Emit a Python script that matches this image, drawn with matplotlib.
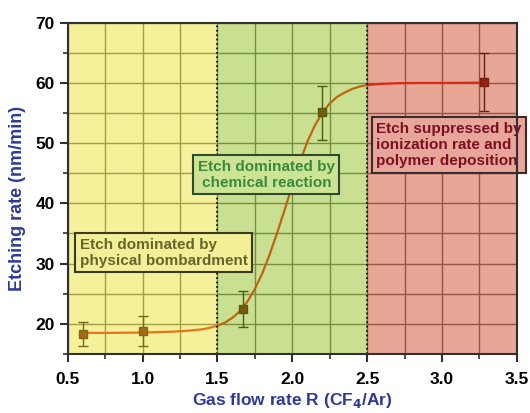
from matplotlib import pyplot as plt

plt.rcParams['font.family'] = ['Liberation Sans', 'DejaVu Sans']

# measured points with error bars
rate_x = [0.6, 1.0, 1.67, 2.2, 3.28]
rate_y = [18.3, 18.8, 22.5, 55.2, 60.1]
err_lo = [2.0, 2.45, 3.0, 4.6, 4.7]
err_hi = [2.0, 2.5, 2.9, 4.3, 4.8]

# fitted curve
fit_x = [0.6, 0.8, 1.0, 1.2, 1.3, 1.4, 1.45, 1.5, 1.55, 1.6, 1.65, 1.7, 1.75,
         1.8, 1.85, 1.9, 1.95, 2.0, 2.05, 2.1, 2.15, 2.2, 2.25, 2.3, 2.35,
         2.4, 2.45, 2.5, 2.6, 2.7, 2.8, 3.0, 3.28]
fit_y = [18.5, 18.5, 18.55, 18.7, 18.85, 19.1, 19.35, 19.7, 20.2, 21.0, 22.1,
         23.7, 25.8, 28.4, 31.6, 35.2, 39.0, 43.0, 46.8, 50.2, 52.9, 55.0,
         56.6, 57.7, 58.4, 59.0, 59.4, 59.65, 59.85, 59.95, 60.0, 60.0, 60.05]

regions = [(0.5, 1.5, '#e9de20'), (1.5, 2.5, '#88bc10'), (2.5, 3.5, '#cc3a1a')]

plt.figure(figsize=(5.3, 4.13), dpi=100)
ax = plt.axes([0.128, 0.143, 0.847, 0.802])

ax.set_xlim(0.5, 3.5)
ax.set_ylim(15, 70)
ax.set_xticks([0.5, 1.0, 1.5, 2.0, 2.5, 3.0, 3.5])
ax.set_xticks([0.75, 1.25, 1.75, 2.25, 2.75, 3.25], minor=True)
ax.set_yticks([20, 30, 40, 50, 60, 70])
ax.set_yticks([15, 25, 35, 45, 55, 65], minor=True)
ax.grid(True, which='both', color='#6a6a6a', lw=1.0, zorder=1)
ax.set_axisbelow(True)

ax.plot(fit_x, fit_y, color='#e8200c', lw=1.6, zorder=2)
ax.errorbar(rate_x, rate_y, yerr=[err_lo, err_hi], fmt='s', color='#6a0c0c',
            ecolor='#101010', elinewidth=1.0, capsize=3.5, capthick=1.0,
            markersize=6, markeredgecolor='#300808', zorder=3)

# translucent colour bands over everything
for x0, x1, c in regions:
    ax.axvspan(x0, x1, color=c, alpha=0.45, lw=0, zorder=4)
for xv in [1.5, 2.5]:
    ax.axvline(xv, color='black', ls=':', lw=1.2, zorder=5)

box_fs = 11
ax.text(0.58, 31.8, 'Etch dominated by\nphysical bombardment', fontsize=box_fs,
        fontweight='bold', color='#66662a', va='center', ha='left', zorder=6,
        bbox=dict(boxstyle='square,pad=0.3', fc='#f3ee98', ec='#3a3a20', lw=1.5))
ax.text(1.827, 44.75, 'Etch dominated by\nchemical reaction', fontsize=box_fs,
        fontweight='bold', color='#3a8a3a', va='center', ha='center', zorder=6,
        bbox=dict(boxstyle='square,pad=0.3', fc='#cde496', ec='#2f4a2f', lw=1.5))
ax.text(2.56, 49.7, 'Etch suppressed by\nionization rate and\npolymer deposition',
        fontsize=box_fs, fontweight='bold', color='#7a1020', va='center', ha='left',
        zorder=6, clip_on=False,
        bbox=dict(boxstyle='square,pad=0.3', fc='#e8a69a', ec='#3a2a2a', lw=1.5))

for s in ax.spines.values():
    s.set_color('#303030')
    s.set_linewidth(1.5)
    s.set_zorder(7)
ax.tick_params(which='major', direction='out', length=6, width=1.5, color='#303030',
               labelsize=12.5)
ax.tick_params(axis='x', which='major', pad=7)
ax.tick_params(which='minor', direction='out', length=3.5, width=1.2, color='#303030')
for lab in ax.get_xticklabels() + ax.get_yticklabels():
    lab.set_fontweight('bold')

ax.set_xlabel('Gas flow rate R (CF$_\\mathbf{4}$/Ar)', fontsize=12.5, fontweight='bold',
              color='#2e3a9a', labelpad=3)
ax.set_ylabel('Etching rate (nm/min)', fontsize=13, fontweight='bold',
              color='#2e3a9a')
ax.yaxis.set_label_coords(-0.093, 0.47)

plt.savefig('out.png', dpi=100)
